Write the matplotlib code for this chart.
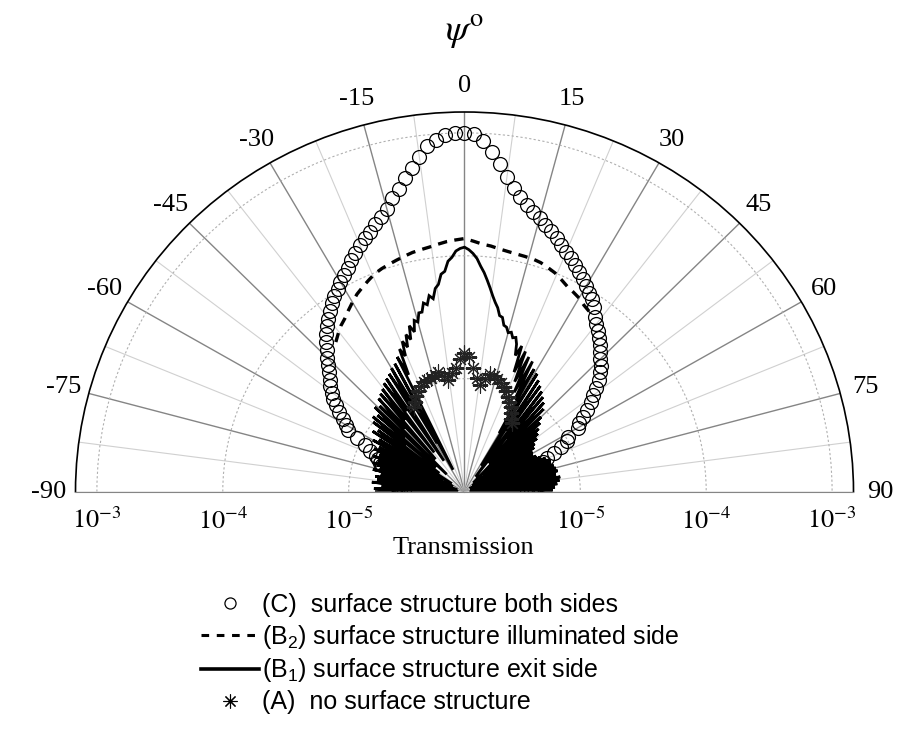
import numpy as np
import matplotlib
matplotlib.use("Agg")
import matplotlib.pyplot as plt
from matplotlib.lines import Line2D
from matplotlib.ticker import NullLocator
from matplotlib.transforms import offset_copy

plt.rcParams['font.family'] = ['Liberation Serif', 'DejaVu Serif']
plt.rcParams['mathtext.fontset'] = 'custom'
plt.rcParams['mathtext.rm'] = 'Liberation Sans'
plt.rcParams['mathtext.it'] = 'Liberation Sans:italic'
plt.rcParams['mathtext.bf'] = 'Liberation Sans:bold'

# angle psi in degrees, transmission given as log10 values
c_angle = np.arange(-90, 90.1, 1.5)
c_log = [-5.44, -5.41, -5.39, -5.38, -5.39, -5.36, -5.34, -5.34, -5.35, -5.31,   # -90
         -5.34, -5.28, -5.23, -5.21, -5.18, -5.155, -5.10, -5.04, -4.96, -4.87,  # -75
         -4.83, -4.785, -4.735, -4.68, -4.63, -4.595, -4.55, -4.515, -4.47, -4.425,  # -60
         -4.38, -4.33, -4.28, -4.23, -4.185, -4.145, -4.10, -4.06, -4.02, -3.99,  # -45
         -3.95, -3.915, -3.875, -3.835, -3.79, -3.75, -3.71, -3.675, -3.63, -3.585,  # -30
         -3.54, -3.465, -3.40, -3.325, -3.25, -3.175, -3.09, -3.045, -3.01, -3.00,  # -15
         -3.00,                                                                  # 0
         -3.01, -3.06, -3.145, -3.24, -3.34, -3.42, -3.485, -3.535, -3.575, -3.615,  # 1.5
         -3.655, -3.69, -3.73, -3.77, -3.805, -3.84, -3.88, -3.915, -3.95, -3.985,  # 16.5
         -4.02, -4.055, -4.10, -4.16, -4.20, -4.235, -4.27, -4.31, -4.355, -4.395,  # 31.5
         -4.43, -4.47, -4.52, -4.575, -4.63, -4.68, -4.74, -4.80, -4.85, -4.88,  # 46.5
         -4.98, -5.01, -5.07, -5.14, -5.21, -5.25, -5.28, -5.28, -5.285, -5.30,  # 61.5
         -5.295, -5.29, -5.30, -5.30, -5.305, -5.31, -5.345, -5.37, -5.39, -5.42]  # 76.5

b2_angle = np.arange(-40, 35, 2)
b2_log = [-4.33, -4.29, -4.25, -4.22, -4.18, -4.14, -4.10, -4.07, -4.04, -4.01,
          -3.99, -3.975, -3.96, -3.945, -3.93, -3.92, -3.91, -3.895, -3.88, -3.87,
          -3.86, -3.88, -3.90, -3.91, -3.925, -3.935, -3.942, -3.946, -3.95, -3.96,
          -3.98, -4.00, -4.03, -4.06, -4.08, -4.10, -4.13, -4.15]

b1_angle = np.arange(-90, 91, 1)
b1_log = [-5.22, -5.82, -5.20, -5.67, -5.26, -5.87, -5.18, -5.62, -5.22, -5.84,  # -90
          -5.20, -5.57, -5.24, -5.80, -5.17, -5.64, -5.22, -5.86, -5.16, -5.52,  # -80
          -5.19, -5.77, -5.14, -5.57, -5.18, -5.82, -5.12, -5.47, -5.15, -5.72,  # -70
          -5.08, -5.42, -5.12, -5.80, -5.04, -5.37, -5.07, -5.67, -5.00, -5.32,  # -60
          -4.97, -5.62, -4.99, -5.27, -4.93, -5.72, -4.95, -5.22, -4.90, -5.57,  # -50
          -4.88, -5.17, -4.86, -5.52, -4.83, -5.12, -4.81, -5.62, -4.79, -5.07,  # -40
          -4.76, -5.47, -4.74, -5.72, -4.70, -4.87, -4.65, -4.72, -4.60, -4.66,  # -30
          -4.56, -4.61, -4.50, -4.56, -4.47, -4.49, -4.42, -4.42, -4.35, -4.37,  # -20
          -4.30, -4.33, -4.25, -4.22, -4.14, -4.12, -4.04, -4.01, -3.96, -3.94,  # -10
          -3.93, -3.95, -3.98, -4.02, -4.08, -4.13, -4.19, -4.25, -4.31, -4.36,  # 0
          -4.40, -4.46, -4.47, -4.53, -4.54, -4.58, -4.57, -4.61, -4.60, -4.65,  # 10
          -4.74, -4.65, -4.87, -4.68, -4.94, -4.71, -5.02, -4.73, -5.07, -4.78,  # 20
          -5.37, -4.80, -5.67, -4.84, -5.32, -4.87, -5.77, -4.90, -5.37, -4.93,  # 30
          -5.62, -4.96, -5.42, -5.00, -5.82, -5.06, -5.47, -5.10, -5.72, -5.14,  # 40
          -5.52, -5.17, -5.84, -5.20, -5.57, -5.24, -5.77, -5.26, -5.52, -5.29,  # 50
          -5.87, -5.30, -5.62, -5.28, -5.80, -5.26, -5.57, -5.22, -5.84, -5.19,  # 60
          -5.62, -5.20, -5.82, -5.18, -5.57, -5.17, -5.86, -5.16, -5.62, -5.18,  # 70
          -5.80, -5.15, -5.67, -5.16, -5.87, -5.18, -5.62, -5.20, -5.82, -5.22,  # 80
          -5.87]

a_angle = np.arange(-30, 35, 2)
a_log = [-5.12, -5.09, -5.05, -5.02, -4.99, -4.97, -4.96, -4.96, -4.94, -4.92,
         -4.96, -5.00, -4.95, -4.91, -4.84, -4.79, -4.82, -4.91, -4.99, -5.04,
         -4.99, -4.94, -4.95, -4.97, -4.99, -5.01, -5.04, -5.08, -5.11, -5.14,
         -5.18, -5.22, -5.25]

theta_ticks = np.arange(-90, 90.1, 7.5)
r_ticks = [-5, -4, -3]
labels = ['(C)  surface structure both sides',
          '(B$_2$) surface structure illuminated side',
          '(B$_1$) surface structure exit side',
          '(A)  no surface structure']

r_min, r_max = 10 ** -5.92, 10 ** -2.83

fig = plt.figure(figsize=(9.04, 7.33), dpi=100)
ax = fig.add_axes([75.5 / 904, 0.0702, 778 / 904, 1.036], projection='polar')
ax.set_theta_zero_location('N')
ax.set_theta_direction(-1)
ax.set_thetamin(-90)
ax.set_thetamax(90)
ax.set_rscale('log')
ax.set_rlim(r_min, r_max)
ax.set_aspect('auto')

# spokes and tick marks
ax.set_xticks(np.deg2rad(theta_ticks))
ax.set_xticklabels([str(int(d)) if d % 15 == 0 else '' for d in theta_ticks])
ax.tick_params(axis='x', direction='in', length=7, width=1, color='k',
               pad=12, labelsize=19)
ax.xaxis.grid(True)
for d, gl in zip(theta_ticks, ax.xaxis.get_gridlines()):
    if d % 15 == 0:
        gl.set_color('#858585')
        gl.set_linewidth(1.0)
    else:
        gl.set_color('#d0d0d0')
        gl.set_linewidth(0.8)
    gl.set_linestyle('-')

ax.set_yticks([10.0 ** k for k in r_ticks])
ax.yaxis.set_minor_locator(NullLocator())
ax.set_yticklabels([])
ax.tick_params(axis='y', length=0)
ax.yaxis.grid(True, color='#b0b0b0', linestyle=(0, (2, 2)), linewidth=0.8)

ax.spines['polar'].set_color('k')
ax.spines['polar'].set_linewidth(1.2)
ax.spines['start'].set_color('#858585')
ax.spines['end'].set_color('#858585')
ax.spines['inner'].set_visible(False)

# data
ax.plot(np.deg2rad(b1_angle), 10.0 ** np.array(b1_log), color='k', lw=2.0,
        solid_joinstyle='miter', zorder=3)
ax.plot(np.deg2rad(c_angle), 10.0 ** np.array(c_log), ls='none', marker='o',
        mfc='none', mec='k', ms=10, mew=0.9, zorder=4)
ax.plot(np.deg2rad(b2_angle), 10.0 ** np.array(b2_log), color='k', lw=2.4,
        ls=(0, (2.8, 2.2)), zorder=4)
ax.plot(np.deg2rad(a_angle), 10.0 ** np.array(a_log), ls='none',
        marker=(8, 2, 0), color='#222222', ms=11, mew=0.8, zorder=5)

# radial labels on both sides of the baseline
lab_tr = offset_copy(ax.transData, fig=fig, y=-16, units='dots')
for side in (-90, 90):
    for k in r_ticks:
        ax.text(np.deg2rad(side), 10.0 ** k, rf'$10^{{{k}}}$', transform=lab_tr,
                ha='center', va='top', fontsize=19, math_fontfamily='stix')

fig.text(463 / 904, 1 - 548 / 733, 'Transmission', ha='center', va='center',
         fontsize=19)
fig.text(464 / 904, 1 - 32 / 733, r'$\psi^{\mathrm{o}}$', ha='center',
         va='center', fontsize=27, math_fontfamily='stix')

handles = [
    Line2D([], [], ls='none', marker='o', mfc='none', mec='k', ms=8, mew=0.9),
    Line2D([], [], color='k', lw=2.2, ls=(0, (2.5, 2.5))),
    Line2D([], [], color='k', lw=2.6),
    Line2D([], [], ls='none', marker=(8, 2, 0), color='k', ms=10, mew=0.8),
]
fig.legend(handles, labels, loc='upper left', bbox_to_anchor=(201 / 904, 1 - 593 / 733),
           frameon=False, prop={'family': 'Liberation Sans', 'size': 18},
           handlelength=2.3, handletextpad=0.15, labelspacing=0.23,
           borderpad=0, borderaxespad=0)

fig.savefig('out.png', dpi=100)
